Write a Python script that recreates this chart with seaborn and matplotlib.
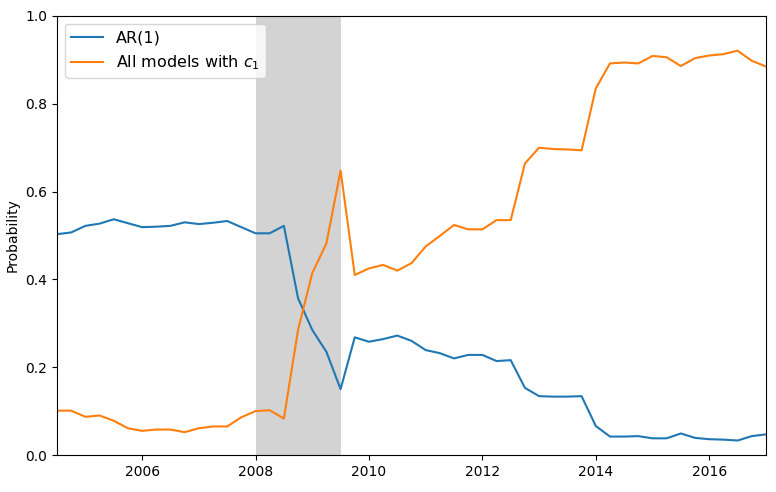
import numpy as np
import pandas as pd
import matplotlib
matplotlib.use("Agg")
import matplotlib.pyplot as plt
import seaborn as sns

# quarterly dates, 2004.5 .. 2017
quarters = np.arange(2004.5, 2017.01, 0.25)

ar1 = [0.503, 0.507, 0.522, 0.527, 0.537, 0.528, 0.519, 0.520, 0.522, 0.530,
       0.526, 0.529, 0.533, 0.519, 0.505, 0.505, 0.522, 0.357, 0.285, 0.235,
       0.150, 0.268, 0.258, 0.264, 0.272, 0.260, 0.239, 0.232, 0.220, 0.228,
       0.228, 0.214, 0.216, 0.153, 0.134, 0.133, 0.133, 0.134, 0.066, 0.042,
       0.042, 0.043, 0.038, 0.038, 0.049, 0.039, 0.036, 0.035, 0.033, 0.043,
       0.047]

all_c1 = [0.101, 0.101, 0.087, 0.090, 0.078, 0.061, 0.055, 0.058, 0.058, 0.052,
          0.061, 0.065, 0.065, 0.086, 0.100, 0.102, 0.083, 0.285, 0.414, 0.482,
          0.648, 0.410, 0.425, 0.433, 0.420, 0.437, 0.475, 0.499, 0.524, 0.514,
          0.514, 0.535, 0.535, 0.664, 0.700, 0.697, 0.696, 0.694, 0.835, 0.892,
          0.894, 0.892, 0.909, 0.906, 0.886, 0.904, 0.910, 0.913, 0.921, 0.898,
          0.885]

crisis_start, crisis_end = 2008.0, 2009.5

df = pd.DataFrame({"date": quarters, "AR(1)": ar1, "All models with $c_1$": all_c1})
long_df = df.melt(id_vars="date", var_name="model", value_name="prob")

fig = plt.figure(figsize=(7.76, 4.92), dpi=100)
ax = fig.add_axes([0.0735, 0.0752, 0.9135, 0.8923])

ax.axvspan(crisis_start, crisis_end, color="#d3d3d3", lw=0)
sns.lineplot(data=long_df, x="date", y="prob", hue="model",
             palette=["#1f77b4", "#ff7f0e"], lw=1.5, ax=ax)

ax.set_xlim(2004.5, 2017)
ax.set_ylim(0, 1)
ax.set_xticks([2006, 2008, 2010, 2012, 2014, 2016])
ax.set_yticks([0.0, 0.2, 0.4, 0.6, 0.8, 1.0])
ax.set_xlabel("")
ax.set_ylabel("Probability")
ax.legend(loc="upper left", title=None, fontsize=11.5)

fig.savefig("out.png", dpi=100)
